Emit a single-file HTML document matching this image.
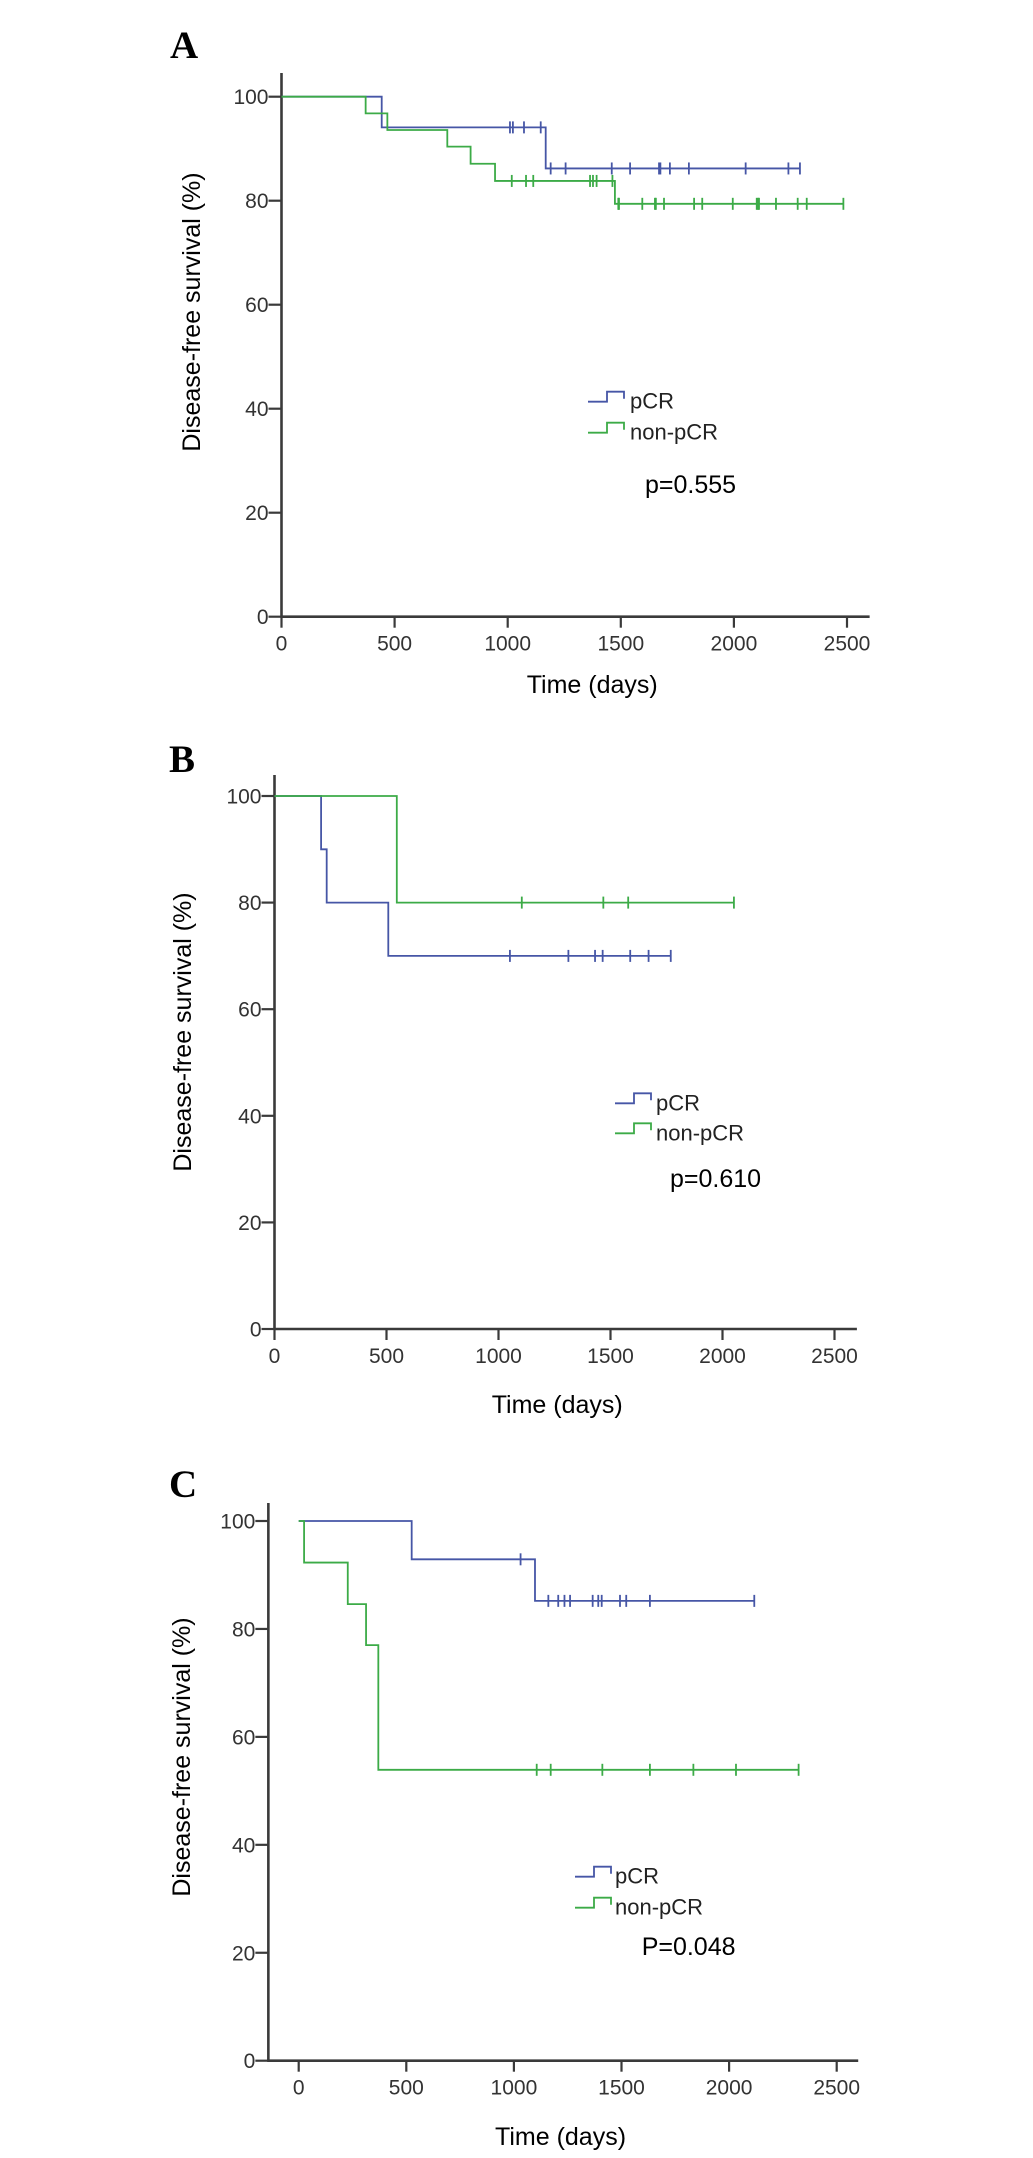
<!DOCTYPE html>
<html><head><meta charset="utf-8"><style>
html,body{margin:0;padding:0;background:#fff;}
svg{display:block;}
.tk{font-family:"Liberation Sans",sans-serif;font-size:21px;fill:#333;}
.tt{font-family:"Liberation Sans",sans-serif;font-size:25px;fill:#000;}
.lg{font-family:"Liberation Sans",sans-serif;font-size:22px;fill:#222;}
.pv{font-family:"Liberation Sans",sans-serif;font-size:25px;fill:#000;}
.pl{font-family:"Liberation Serif",serif;font-size:39px;font-weight:bold;fill:#000;}
</style></head><body>
<svg id="fig" width="1033" height="2158" viewBox="0 0 1033 2158" xmlns="http://www.w3.org/2000/svg"></svg>
<script>
// ---- data ----
var xTickLabels=[0,500,1000,1500,2000,2500];
var yTickLabels=[0,20,40,60,80,100];
// Panel A
var aPcrEventTimes=[443,1168];
var aPcrEventSurv=[94.1,86.2];
var aPcrCensor=[1010,1023,1072,1146,1190,1256,1460,1541,1669,1675,1717,1801,2052,2241,2292];
var aNonEventTimes=[372,468,733,836,944,1474];
var aNonEventSurv=[96.8,93.6,90.4,87.1,83.8,79.4];
var aNonCensor=[1018,1081,1113,1364,1377,1393,1463,1489,1492,1595,1651,1655,1691,1824,1860,1995,2101,2107,2111,2186,2282,2322,2484];
// Panel B
var bPcrEventTimes=[208,233,508];
var bPcrEventSurv=[90,80,70];
var bPcrCensor=[1051,1312,1431,1465,1588,1670,1769];
var bNonEventTimes=[546];
var bNonEventSurv=[80];
var bNonCensor=[1104,1468,1579,2051];
// Panel C
var cPcrEventTimes=[525,1098];
var cPcrEventSurv=[92.9,85.2];
var cPcrCensor=[1031,1160,1206,1235,1261,1366,1392,1408,1493,1522,1632,2117];
var cNonEventTimes=[25,228,313,370];
var cNonEventSurv=[92.3,84.6,77.0,53.9];
var cNonCensor=[1106,1171,1411,1632,1834,2032,2323];
var pValues=["p=0.555","p=0.610","P=0.048"];

var NS="http://www.w3.org/2000/svg";
var svg=document.getElementById('fig');
var BLUE="#4656a6",GREEN="#3cab47",AX="#3a3a3a";
function mk(tag,attrs,parent){var e=document.createElementNS(NS,tag);for(var k in attrs)e.setAttribute(k,attrs[k]);(parent||svg).appendChild(e);return e;}

var panels=[
 {id:'a',letter:'A',x0:281.5,ppd:0.2262,y0:616.7,ppu:5.2,yTop:73,dMin:0,dMax:2600,lx:170,ly:58,tx:192,ty:312,legX:588,legY1:401.7,legY2:432.7,legTX:630,pX:645,pY:493,timeX:526.7,timeY:693,
  series:[[aPcrEventTimes,aPcrEventSurv,aPcrCensor,BLUE,'pcr'],[aNonEventTimes,aNonEventSurv,aNonCensor,GREEN,'non-pcr']]},
 {id:'b',letter:'B',x0:274.5,ppd:0.224,y0:1329,ppu:5.33,yTop:775,dMin:0,dMax:2600,lx:169,ly:772,tx:183,ty:1032,legX:615,legY1:1103.3,legY2:1133.3,legTX:656,pX:670,pY:1187,timeX:491.7,timeY:1413,
  series:[[bPcrEventTimes,bPcrEventSurv,bPcrCensor,BLUE,'pcr'],[bNonEventTimes,bNonEventSurv,bNonCensor,GREEN,'non-pcr']]},
 {id:'c',letter:'C',x0:298.7,ppd:0.2152,y0:2060.7,ppu:5.397,yTop:1503,dMin:-141,dMax:2600,lx:169,ly:1497,tx:182,ty:1757,legX:575,legY1:1876.7,legY2:1907.7,legTX:615,pX:641.7,pY:1955,timeX:495,timeY:2145,
  series:[[cPcrEventTimes,cPcrEventSurv,cPcrCensor,BLUE,'pcr'],[cNonEventTimes,cNonEventSurv,cNonCensor,GREEN,'non-pcr']]}
];

panels.forEach(function(p,pi){
  var g=mk('g',{});
  
  
  function X(d){return p.x0+d*p.ppd;}
  function Y(v){return p.y0-v*p.ppu;}
  var xl=X(p.dMin), xr=X(p.dMax);
  var lab=mk('text',{x:p.lx,y:p.ly,'class':'pl'},g);lab.textContent=p.letter;
  
  
  var ya=mk('line',{x1:xl,y1:p.yTop,x2:xl,y2:p.y0+1,stroke:AX,'stroke-width':2.6},g);
  
  
  var xa=mk('line',{x1:xl-1,y1:p.y0,x2:xr,y2:p.y0,stroke:AX,'stroke-width':2.6},g);
  
  
  yTickLabels.forEach(function(v){
    var t=mk('line',{x1:xl-13,y1:Y(v),x2:xl,y2:Y(v),stroke:AX,'stroke-width':2.2},g);
    
    
    var tl=mk('text',{x:xl-13,y:Y(v)+7.5,'class':'tk','text-anchor':'end'},g);tl.textContent=v;
    
    
  });
  xTickLabels.forEach(function(d){
    var t=mk('line',{x1:X(d),y1:p.y0,x2:X(d),y2:p.y0+11,stroke:AX,'stroke-width':2.2},g);
    
    
    var tl=mk('text',{x:X(d),y:p.y0+34,'class':'tk','text-anchor':'middle'},g);tl.textContent=d;
    
    
  });
  var yt=mk('text',{x:p.tx+8,y:p.ty,'class':'tt','text-anchor':'middle',transform:'rotate(-90 '+(p.tx+8)+' '+p.ty+')','font-size':'24'},g);
  yt.textContent='Disease-free survival (%)';
  
  
  var xt=mk('text',{x:p.timeX,y:p.timeY,'class':'tt'},g);xt.textContent='Time (days)';
  
  
  // series
  p.series.forEach(function(s){
    var et=s[0],es=s[1],cs=s[2],col=s[3];
    var end=Math.max(cs.length?cs[cs.length-1]:0, et[et.length-1]);
    var d='M'+X(0)+','+Y(100),cur=100;
    for(var i=0;i<et.length;i++){d+=' H'+X(et[i])+' V'+Y(es[i]);cur=es[i];}
    d+=' H'+X(end);
    var path=mk('path',{d:d,fill:'none',stroke:col,'stroke-width':1.8},g);
    
    
    cs.forEach(function(c){
      var v=100;for(var i=0;i<et.length;i++){if(et[i]<=c)v=es[i];}
      var m=mk('line',{x1:X(c),y1:Y(v)-6,x2:X(c),y2:Y(v)+6,stroke:col,'stroke-width':1.8},g);
      
      
    });
  });
  // legend
  [[p.legY1,BLUE,'pCR','legend-pcr'],[p.legY2,GREEN,'non-pCR','legend-non-pcr']].forEach(function(L){
    var x=p.legX,y=L[0];
    var lp=mk('path',{d:'M'+x+','+y+' H'+(x+19)+' V'+(y-10)+' H'+(x+36)+' V'+(y-3),fill:'none',stroke:L[1],'stroke-width':1.8},g);
    
    
    var lt=mk('text',{x:p.legTX,y:y+7,'class':'lg'},g);lt.textContent=L[2];
    
    
  });
  var pv=mk('text',{x:p.pX,y:p.pY,'class':'pv'},g);pv.textContent=pValues[pi];
  
  
});
</script>
</body></html>
